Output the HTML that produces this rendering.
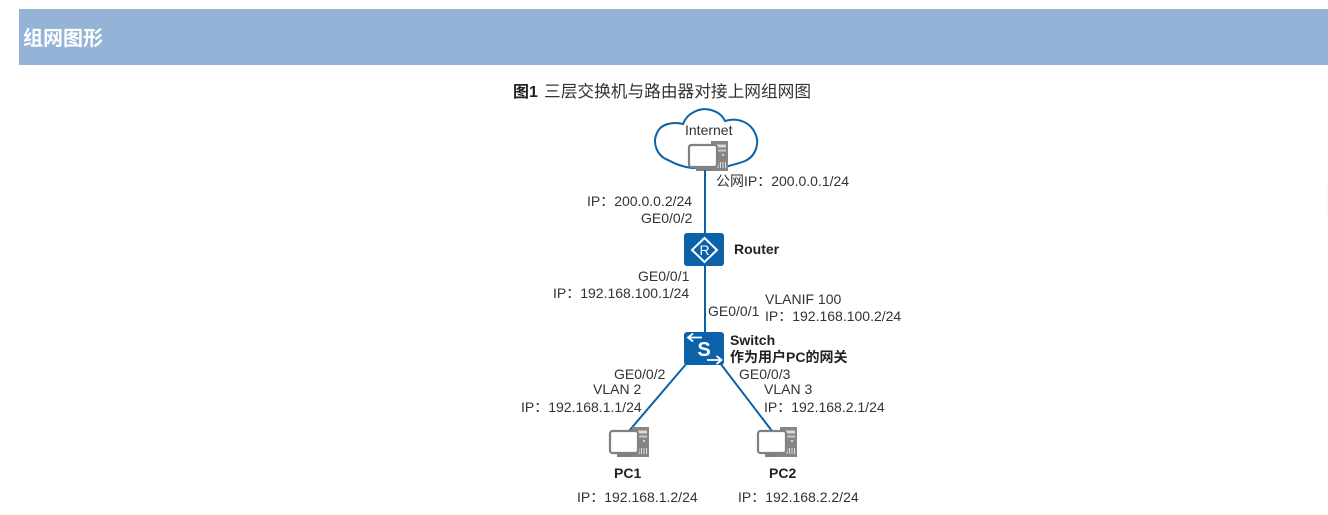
<!DOCTYPE html>
<html lang="zh"><head><meta charset="utf-8"><title>组网图形</title>
<style>
html,body{margin:0;padding:0;background:#fff;width:1328px;height:515px;overflow:hidden}
svg{display:block}
text{font-family:"Liberation Sans","Noto Sans CJK SC",sans-serif;font-size:14px;fill:#333}
.b{font-weight:bold;fill:#222}
</style></head><body>
<svg width="1328" height="515" viewBox="0 0 1328 515" xmlns="http://www.w3.org/2000/svg">
<defs>
<linearGradient id="sh" x1="0" x2="1" y1="0" y2="0"><stop offset="0" stop-color="#fff"/><stop offset="1" stop-color="#f7f7f7"/></linearGradient>
<g id="pc">
<rect x="23" y="0" width="17" height="30" fill="#858585"/>
<rect x="25" y="3.500" width="13" height="3" fill="#d8d8d8"/>
<rect x="25" y="8.500" width="13" height="2" fill="#c8c8c8"/>
<circle cx="35" cy="14" r="1" fill="#eee"/>
<path d="M30 21v6M32.500 21v6M35 21v6M37.500 21v6" stroke="#ddd" stroke-width="1"/>
<rect x="1" y="4" width="28" height="22" rx="2.500" fill="#fff" stroke="#808080" stroke-width="2.200"/>
<rect x="8" y="27" width="16" height="3" fill="#808080"/>
</g>
</defs>
<rect x="19" y="9" width="1309" height="56" fill="#95b3d7"/>
<text x="23" y="45" style="font-size:20px;font-weight:bold;fill:#fff">组网图形</text>
<text x="513" y="97" style="font-size:16px;font-weight:bold;fill:#222">图1</text>
<text x="544" y="97" style="font-size:16.700px;fill:#333" textLength="267" lengthAdjust="spacing">三层交换机与路由器对接上网组网图</text>
<rect x="1325" y="184" width="3" height="32" fill="url(#sh)"/>

<path d="M668 160C657 156 652 143 657 133C660 125 671 121 683 124C687 113 700 107 711 110C718 112 722 115 725 121C737 117 750 122 755 133C760 143 756 156 745 161C738 164 731 165 726 167L692 168C684 167 675 164 668 160Z" fill="#fff" stroke="#0b62a8" stroke-width="2"/>
<text x="685" y="135">Internet</text>
<use href="#pc" x="688" y="141"/>

<line x1="705" y1="170" x2="705" y2="334" stroke="#0b62a8" stroke-width="2"/>
<line x1="687" y1="363" x2="629" y2="431" stroke="#0b62a8" stroke-width="2"/>
<line x1="720" y1="363" x2="772" y2="431" stroke="#0b62a8" stroke-width="2"/>

<rect x="684" y="233" width="40" height="33" rx="3" fill="#0b62a8"/>
<path d="M704.500 238L717 250L704.500 262L692 250Z" fill="none" stroke="#fff" stroke-width="2"/>
<text x="704.500" y="255" text-anchor="middle" style="font-size:14px;fill:#fff">R</text>

<rect x="684" y="332" width="40" height="33" rx="3" fill="#0b62a8"/>
<path d="M688 337.500H702M693 333.500L688 337.500L693 341.500M707 360H721.500M716.500 356L721.500 360L716.500 364" fill="none" stroke="#fff" stroke-width="1.800"/>
<text x="704" y="356" text-anchor="middle" style="font-size:20px;font-weight:bold;fill:#fff">S</text>

<use href="#pc" x="609" y="427"/>
<use href="#pc" x="757" y="427"/>

<text x="716" y="186">公网IP：200.0.0.1/24</text>
<text x="587" y="206">IP：200.0.0.2/24</text>
<text x="641" y="223">GE0/0/2</text>
<text x="734" y="254" class="b">Router</text>
<text x="638" y="281">GE0/0/1</text>
<text x="553" y="298">IP：192.168.100.1/24</text>
<text x="708" y="316">GE0/0/1</text>
<text x="765" y="304">VLANIF 100</text>
<text x="765" y="321">IP：192.168.100.2/24</text>
<text x="730" y="345" class="b">Switch</text>
<text x="730" y="362" class="b">作为用户PC的网关</text>
<text x="614" y="379">GE0/0/2</text>
<text x="593" y="394">VLAN 2</text>
<text x="521" y="412">IP：192.168.1.1/24</text>
<text x="739" y="379">GE0/0/3</text>
<text x="764" y="394">VLAN 3</text>
<text x="764" y="412">IP：192.168.2.1/24</text>
<text x="614" y="478" class="b">PC1</text>
<text x="769" y="478" class="b">PC2</text>
<text x="577" y="502">IP：192.168.1.2/24</text>
<text x="738" y="502">IP：192.168.2.2/24</text>
</svg>
</body></html>
